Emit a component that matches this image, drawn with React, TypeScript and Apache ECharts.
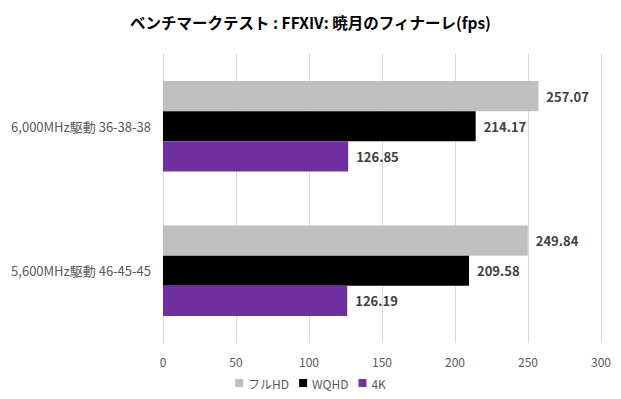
import React, { useEffect, useRef } from "react";
import * as echarts from "echarts";

const categories = ["5,600MHz駆動 46-45-45", "6,000MHz駆動 36-38-38"];
const seriesNames = ["フルHD", "WQHD", "4K"];
const fullHD = [249.84, 257.07];
const wqhd = [209.58, 214.17];
const k4 = [126.19, 126.85];
const colors = ["#BFBFBF", "#000000", "#7030A0"];
const title = "ベンチマークテスト : FFXIV: 暁月のフィナーレ(fps)";

export default function App() {
  const ref = useRef<HTMLDivElement>(null);
  useEffect(() => {
    if (!ref.current) return;
    const chart = echarts.init(ref.current, null, { renderer: "svg" });
    const font = "'Noto Sans CJK JP', 'Noto Sans', sans-serif";
    const mk = (name: string, data: number[], color: string) => ({
      name,
      type: "bar",
      data,
      barGap: "0%",
      barCategoryGap: "37.5%",
      itemStyle: { color },
      label: {
        show: true,
        position: "right",
        distance: 8,
        color: "#404040",
        fontWeight: "bold",
        fontSize: 13,
        fontFamily: font,
        formatter: (p: any) => p.value.toFixed(2),
      },
    });
    chart.setOption({
      animation: false,
      textStyle: { fontFamily: font },
      title: {
        text: title,
        left: "center",
        top: 9,
        textStyle: { fontSize: 15.5, fontWeight: "bold", color: "#000", fontFamily: font },
      },
      legend: {
        data: seriesNames,
        bottom: 5,
        left: "center",
        itemWidth: 8,
        itemHeight: 8,
        itemGap: 10,
        icon: "rect",
        textStyle: { color: "#595959", fontSize: 12, fontFamily: font },
      },
      grid: { left: 163, right: 20, top: 54, bottom: 56, containLabel: false },
      xAxis: {
        type: "value",
        min: 0,
        max: 300,
        interval: 50,
        axisLine: { show: false },
        axisTick: { show: false },
        splitLine: { show: true, lineStyle: { color: "#D9D9D9", width: 1 } },
        axisLabel: { color: "#595959", fontSize: 12, margin: 12, fontFamily: font },
      },
      yAxis: {
        type: "category",
        data: categories,
        axisLine: { show: true, lineStyle: { color: "#D9D9D9" } },
        axisTick: { show: false },
        axisLabel: { color: "#595959", fontSize: 13, margin: 12, fontFamily: font },
      },
      series: [
        mk(seriesNames[0], fullHD, colors[0]),
        mk(seriesNames[1], wqhd, colors[1]),
        mk(seriesNames[2], k4, colors[2]),
      ],
    });
    return () => chart.dispose();
  }, []);
  return (
    <div
      ref={ref}
      style={{ position: "absolute", left: 0, top: 0, width: 621, height: 399 }}
    />
  );
}
